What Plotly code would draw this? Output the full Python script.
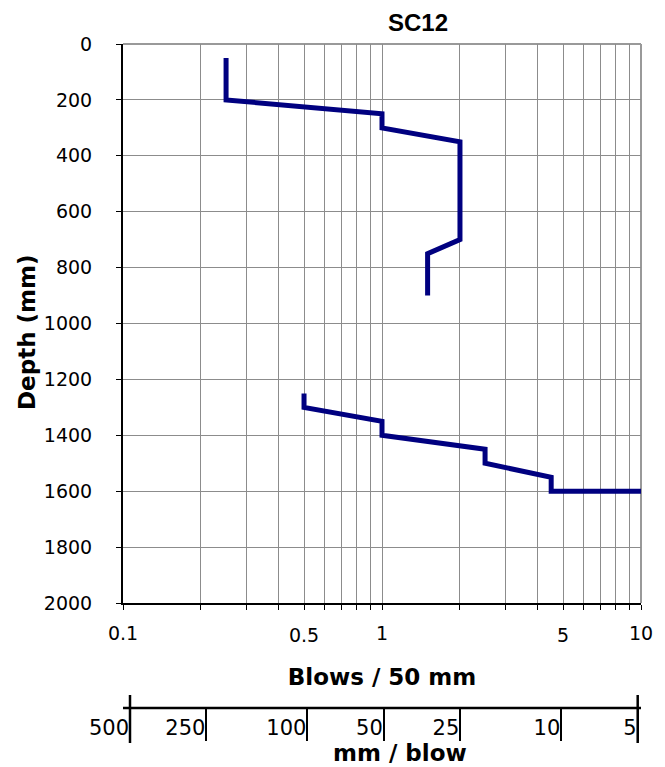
import plotly.graph_objects as go

# ---- data ----
blows = [0.25, 0.25, 1, 1, 2, 2, 1.5, 1.5, None, 0.5, 0.5, 1, 1, 2.5, 2.5, 4.5, 4.5, 10]
depth = [50, 200, 250, 300, 350, 700, 750, 900, None, 1250, 1300, 1350, 1400, 1450, 1500, 1550, 1600, 1600]

grid_vals = [0.1, 0.2, 0.3, 0.4, 0.5, 0.6, 0.7, 0.8, 0.9,
             1, 2, 3, 4, 5, 6, 7, 8, 9, 10]
upper_labels = {0.1: "0.1", 1: "1", 10: "10"}      # labels on the first row
lower_label_vals = [0.5, 5]                          # labels set slightly lower
lower_label_text = ["0.5", "5"]
grid_text = [upper_labels.get(v, "") for v in grid_vals]

mm_blow_vals = [0.1, 0.2, 0.5, 1, 2, 5, 10]
mm_blow_text = ["500", "250", "100", "50", "25", "10", "5"]

title = "SC12"
FONT = "DejaVu Sans"

# ---- layout geometry (px) ----
W, H = 665, 767
R = 24
PW = W - R
T, B_PAPER = 44, 741
PLOT_L, PLOT_R, PLOT_BOTTOM = 123, 641, 603
AX2_TOP = 708
AX2_L, AX2_R = 130, 637.7
AX2_DOM_L = 50
paper_h = B_PAPER - T
ppd = (AX2_R - AX2_L) / 2.0
ax2_range = [-1 - (AX2_L - AX2_DOM_L) / ppd, 1 + (PLOT_R - AX2_R) / ppd]
x_dom = [PLOT_L / PW, 1]

fig = go.Figure()
fig.add_trace(go.Scatter(x=blows, y=depth, mode="lines",
                         line=dict(color="#000080", width=5),
                         showlegend=False, xaxis="x", yaxis="y"))
fig.add_trace(go.Scatter(x=[mm_blow_vals[0], mm_blow_vals[-1]], y=[None, None], mode="lines",
                         showlegend=False, xaxis="x2", yaxis="y2", hoverinfo="skip"))
fig.add_trace(go.Scatter(x=lower_label_vals, y=[None, None], mode="lines",
                         showlegend=False, xaxis="x3", yaxis="y", hoverinfo="skip"))

fig.update_layout(
    width=W, height=H,
    margin=dict(l=0, r=R, t=T, b=H - B_PAPER, autoexpand=False),
    paper_bgcolor="white", plot_bgcolor="white",
    title=dict(text="<b>" + title + "</b>", x=418 / W, xanchor="center",
               y=1 - 23 / H, yanchor="middle",
               font=dict(family="Liberation Sans", size=24, color="black")),
    xaxis=dict(type="log", range=[-1, 1], domain=x_dom,
               tickvals=grid_vals, ticktext=grid_text,
               ticks="outside", ticklen=5, tickcolor="black",
               showgrid=True, gridcolor="#8c8c8c", gridwidth=1,
               showline=True, linecolor="black", linewidth=2,
               tickfont=dict(family=FONT, size=19, color="black"),
               ticklabelstandoff=7,
               title=dict(text="<b>Blows / 50 mm</b>", standoff=26,
                          font=dict(family=FONT, size=23, color="black")),
               anchor="y", zeroline=False, automargin=False),
    xaxis3=dict(type="log", range=[-1, 1], domain=x_dom, anchor="y", overlaying="x",
                side="bottom", tickvals=lower_label_vals, ticktext=lower_label_text,
                ticks="", showgrid=False, showline=False, zeroline=False,
                tickfont=dict(family=FONT, size=19, color="black"),
                ticklabelstandoff=19, automargin=False),
    yaxis=dict(range=[2000, 0], dtick=200, domain=[(B_PAPER - PLOT_BOTTOM) / paper_h, 1],
               anchor="x",
               ticks="outside", ticklen=5, tickcolor="black",
               showgrid=True, gridcolor="#8c8c8c", gridwidth=1,
               showline=True, linecolor="black", linewidth=2,
               tickfont=dict(family=FONT, size=19, color="black"),
               ticklabelstandoff=20,
               zeroline=False, automargin=False),
    xaxis2=dict(type="log", range=ax2_range, domain=[AX2_DOM_L / PW, 1],
                anchor="y2", side="top",
                tickvals=mm_blow_vals, ticktext=mm_blow_text,
                ticks="inside", ticklen=B_PAPER - AX2_TOP, tickwidth=2, tickcolor="black",
                ticklabelposition="inside left", ticklabelstandoff=6,
                showgrid=False, showline=False,
                tickfont=dict(family=FONT, size=21, color="black"),
                zeroline=False, automargin=False),
    yaxis2=dict(domain=[0, (B_PAPER - AX2_TOP) / paper_h], anchor="x2", visible=False,
                range=[0, 1], showgrid=False, zeroline=False),
)

fig.add_annotation(text="<b>Depth (mm)</b>", xref="paper", yref="paper",
                   x=27 / PW, y=(B_PAPER - 332) / paper_h, textangle=-90,
                   xanchor="center", yanchor="middle", showarrow=False,
                   font=dict(family=FONT, size=23, color="black"))
fig.add_annotation(text="<b>mm / blow</b>", xref="paper", yref="paper",
                   x=400 / PW, y=-(753 - B_PAPER) / paper_h, xanchor="center", yanchor="middle",
                   showarrow=False, font=dict(family=FONT, size=23, color="black"))

fig.add_shape(type="line", xref="x domain", yref="y domain", x0=0, x1=1, y0=1, y1=1,
              line=dict(color="#999999", width=2), layer="below")
fig.add_shape(type="line", xref="x domain", yref="y domain", x0=1, x1=1, y0=0, y1=1,
              line=dict(color="#999999", width=2), layer="below")
fig.add_shape(type="line", xref="x domain", yref="y2 domain", x0=0, x1=1, y0=1, y1=1,
              line=dict(color="black", width=2.5))
h2 = B_PAPER - AX2_TOP
for v in (mm_blow_vals[0], mm_blow_vals[-1]):
    fig.add_shape(type="line", xref="x2", yref="y2 domain", x0=v, x1=v,
                  y0=-2 / h2, y1=1 + 13 / h2, line=dict(color="black", width=2.5))

fig.write_html("out.html", config={"displayModeBar": False},
               post_script="document.body.style.margin='0';")
